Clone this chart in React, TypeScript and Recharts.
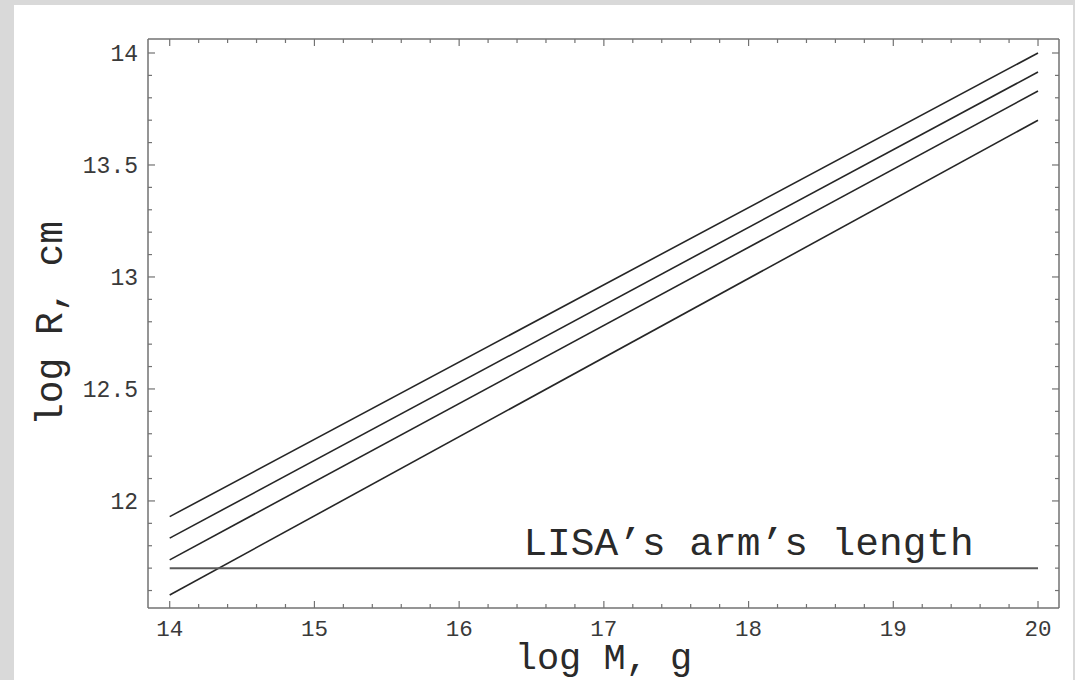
import { LineChart, Line, XAxis, YAxis, ReferenceDot } from "recharts";

// log M (g) at the two ends of each straight line
const massLog = [14, 20];
// log R (cm) for the four curves, read at M = 14 and M = 20
const radiusA = [11.93, 14.0];
const radiusB = [11.834, 13.915];
const radiusC = [11.737, 13.83];
const radiusD = [11.58, 13.7];
// LISA's arm's length, constant
const lisaArm = [11.7, 11.7];
const lisaLabel = "LISA\u2019s arm\u2019s length";
const lisaLabelAt = 18;

const xMajor = [14, 15, 16, 17, 18, 19, 20];
const yMajor = [12, 12.5, 13, 13.5, 14];

const xTicks = Array.from({ length: 31 }, (_, i) => Number((14 + i * 0.2).toFixed(1)));
const yTicks = Array.from({ length: 25 }, (_, i) => Number((11.6 + i * 0.1).toFixed(1)));

const FONT = "'Liberation Mono', 'Courier New', monospace";
const FRAME = "#727272";

const isMajorX = (v: number) => xMajor.some((m) => Math.abs(m - v) < 1e-6);
const isMajorY = (v: number) => yMajor.some((m) => Math.abs(m - v) < 1e-6);

const BottomTick = (props: any) => {
  const { x, y, payload } = props;
  const major = isMajorX(payload.value);
  return (
    <g>
      <line x1={x} x2={x} y1={y} y2={y - (major ? 7 : 4)} stroke={FRAME} strokeWidth={1.2} />
      {major && (
        <text x={x} y={y + 28} textAnchor="middle" fontFamily={FONT} fontSize={22.5} fill="#3a3a3a">
          {payload.value}
        </text>
      )}
    </g>
  );
};

const TopTick = (props: any) => {
  const { x, y, payload } = props;
  const major = isMajorX(payload.value);
  return <line x1={x} x2={x} y1={y} y2={y + (major ? 7 : 4)} stroke={FRAME} strokeWidth={1.2} />;
};

const LeftTick = (props: any) => {
  const { x, y, payload } = props;
  const major = isMajorY(payload.value);
  return (
    <g>
      <line x1={x} x2={x + (major ? 7 : 4)} y1={y} y2={y} stroke={FRAME} strokeWidth={1.2} />
      {major && (
        <text x={x - 10} y={y + 8} textAnchor="end" fontFamily={FONT} fontSize={23} fill="#3a3a3a">
          {payload.value}
        </text>
      )}
    </g>
  );
};

const RightTick = (props: any) => {
  const { x, y, payload } = props;
  const major = isMajorY(payload.value);
  return <line x1={x} x2={x - (major ? 7 : 4)} y1={y} y2={y} stroke={FRAME} strokeWidth={1.2} />;
};

export default function App() {
  const data = massLog.map((m, i) => ({
    m,
    a: radiusA[i],
    b: radiusB[i],
    c: radiusC[i],
    d: radiusD[i],
    lisa: lisaArm[i],
  }));

  return (
    <div
      style={{
        position: "absolute",
        left: 0,
        top: 0,
        width: 1075,
        height: 680,
        background: "#d9d9d9",
        overflow: "hidden",
      }}
    >
      <div style={{ position: "absolute", left: 14, top: 5, width: 1059, height: 675, background: "#fff" }} />
      <div style={{ position: "absolute", left: 0, top: 0 }}>
        <LineChart
          width={1075}
          height={680}
          data={data}
          margin={{ top: 29, right: 6, bottom: 6, left: 20 }}
        >
          <XAxis
            xAxisId="bottom"
            dataKey="m"
            type="number"
            domain={[13.85, 20.145]}
            allowDataOverflow
            ticks={xTicks}
            interval={0}
            tickSize={0}
            tickMargin={0}
            tick={<BottomTick />}
            height={66}
            axisLine={{ stroke: FRAME, strokeWidth: 1.5 }}
            label={{
              value: "log M, g",
              position: "insideBottom",
              offset: 5,
              style: { fontFamily: FONT, fontSize: 37, fill: "#2a2a2a" },
            }}
          />
          <XAxis
            xAxisId="top"
            orientation="top"
            dataKey="m"
            type="number"
            domain={[13.85, 20.145]}
            allowDataOverflow
            ticks={xTicks}
            interval={0}
            tickSize={0}
            tickMargin={0}
            tick={<TopTick />}
            height={10}
            axisLine={{ stroke: FRAME, strokeWidth: 1.5 }}
          />
          <YAxis
            yAxisId="left"
            type="number"
            domain={[11.522, 14.0625]}
            allowDataOverflow
            ticks={yTicks}
            interval={0}
            tickSize={0}
            tickMargin={0}
            tick={<LeftTick />}
            width={128}
            axisLine={{ stroke: FRAME, strokeWidth: 1.5 }}
            label={{
              value: "log R, cm",
              angle: -90,
              position: "insideLeft",
              offset: 29,
              textAnchor: "middle",
              style: { fontFamily: FONT, fontSize: 38, fill: "#2a2a2a", textAnchor: "middle" },
            }}
          />
          <YAxis
            yAxisId="right"
            orientation="right"
            type="number"
            domain={[11.522, 14.0625]}
            allowDataOverflow
            ticks={yTicks}
            interval={0}
            tickSize={0}
            tickMargin={0}
            tick={<RightTick />}
            width={10}
            axisLine={{ stroke: FRAME, strokeWidth: 1.5 }}
          />
          {["a", "b", "c", "d"].map((k) => (
            <Line
              key={k}
              xAxisId="bottom"
              yAxisId="left"
              dataKey={k}
              type="linear"
              stroke="#262626"
              strokeWidth={1.6}
              dot={false}
              activeDot={false}
              isAnimationActive={false}
            />
          ))}
          <Line
            xAxisId="bottom"
            yAxisId="left"
            dataKey="lisa"
            type="linear"
            stroke="#5a5a5a"
            strokeWidth={2}
            dot={false}
            activeDot={false}
            isAnimationActive={false}
          />
          <ReferenceDot
            xAxisId="bottom"
            yAxisId="left"
            x={lisaLabelAt}
            y={lisaArm[0]}
            r={0}
            stroke="none"
            fill="none"
            label={{
              value: lisaLabel,
              position: "top",
              offset: 13,
              style: { fontFamily: FONT, fontSize: 39.5, fill: "#2a2a2a" },
            }}
          />
        </LineChart>
      </div>
    </div>
  );
}
